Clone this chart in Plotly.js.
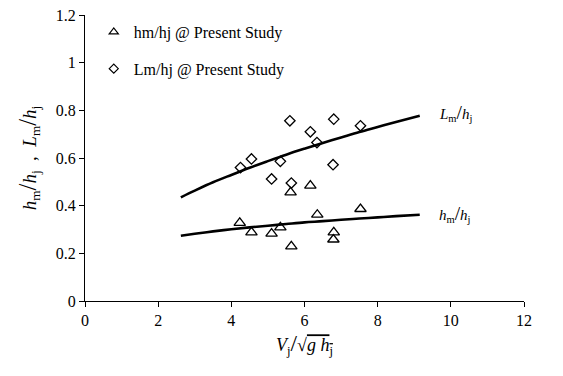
<!DOCTYPE html>
<html>
<head>
<meta charset="utf-8">
<script src="https://cdn.plot.ly/plotly-3.0.1.min.js"></script>
<style>
  html, body { margin: 0; padding: 0; background: #fff; }
  #chart { width: 563px; height: 376px; }
</style>
</head>
<body>
<div id="chart"></div>
<script>
// Measured hm/hj values
var hmX = [4.23, 4.55, 5.10, 5.34, 5.64, 5.62, 6.16, 6.35, 7.53, 6.80, 6.79];
var hmY = [0.328, 0.288, 0.283, 0.309, 0.229, 0.456, 0.484, 0.362, 0.386, 0.288, 0.258];

// Measured Lm/hj values
var lmX = [5.60, 6.80, 6.16, 6.34, 4.55, 4.25, 5.34, 5.10, 6.78, 5.64, 7.53];
var lmY = [0.756, 0.763, 0.710, 0.665, 0.596, 0.560, 0.586, 0.512, 0.572, 0.495, 0.735];

// Fitted trend curves
var fitX   = [2.62, 3, 3.5, 4, 4.5, 5, 5.5, 6, 6.5, 7, 7.5, 8, 8.5, 9.15];
var fitLmY = [0.435, 0.463, 0.498, 0.529, 0.559, 0.587, 0.614, 0.639, 0.663, 0.686, 0.709, 0.730, 0.751, 0.777];
var fitHmY = [0.274, 0.282, 0.292, 0.301, 0.309, 0.316, 0.323, 0.330, 0.335, 0.341, 0.346, 0.351, 0.356, 0.362];

var legendNames = ['hm/hj @ Present Study', 'Lm/hj @ Present Study'];
var xTicks = [0, 2, 4, 6, 8, 10, 12];
var yTicks = [0, 0.2, 0.4, 0.6, 0.8, 1, 1.2];
var yTickText = ['0', '0.2', '0.4', '0.6', '0.8', '1', '1.2'];

var serif = 'Liberation Serif, Times New Roman, serif';
var slash = '<span style="font-size:1.3em">/</span>';

var traces = [
  { x: fitX, y: fitLmY, mode: 'lines', line: { color: '#000', width: 2.6, shape: 'spline' },
    showlegend: false, hoverinfo: 'skip' },
  { x: fitX, y: fitHmY, mode: 'lines', line: { color: '#000', width: 2.6, shape: 'spline' },
    showlegend: false, hoverinfo: 'skip' },
  { x: hmX, y: hmY, mode: 'markers', showlegend: false,
    marker: { symbol: 'triangle-up-open', size: 10, color: '#000', line: { width: 1.3, color: '#000' } } },
  { x: lmX, y: lmY, mode: 'markers', showlegend: false,
    marker: { symbol: 'diamond-open', size: 8, color: '#000', line: { width: 1.3, color: '#000' } } },
  // legend entries
  { x: [null], y: [null], mode: 'markers', name: legendNames[0], legendgroup: 'a',
    marker: { symbol: 'triangle-up-open', size: 8, color: '#000', line: { width: 1.2, color: '#000' } } },
  { x: [null], y: [null], mode: 'markers', name: legendNames[1], legendgroup: 'b',
    marker: { symbol: 'diamond-open', size: 7, color: '#000', line: { width: 1.2, color: '#000' } } }
];

var layout = {
  width: 563, height: 376,
  margin: { l: 85, r: 39, t: 15, b: 74.5 },
  paper_bgcolor: '#fff', plot_bgcolor: '#fff',
  font: { family: serif, color: '#000', size: 16 },
  showlegend: true,
  legend: {
    x: 0.02, y: 1.0, xanchor: 'left', yanchor: 'top',
    bgcolor: 'rgba(0,0,0,0)', borderwidth: 0,
    font: { family: serif, size: 16, color: '#000' },
    traceorder: 'grouped', tracegroupgap: 13
  },
  xaxis: {
    range: [0, 12], tickvals: xTicks, ticktext: xTicks.map(String),
    showgrid: false, zeroline: false, showline: true, linecolor: '#000', linewidth: 1,
    ticks: 'outside', ticklen: 5, tickcolor: '#000', tickfont: { family: serif, size: 16 },
    title: { text: '<i>V</i><sub>j</sub>' + slash + '√<span style="text-decoration:overline"><i>g h</i><sub>j</sub></span>',
             font: { family: serif, size: 18 }, standoff: 10 }
  },
  yaxis: {
    range: [0, 1.2], tickvals: yTicks, ticktext: yTickText,
    showgrid: false, zeroline: false, showline: true, linecolor: '#000', linewidth: 1,
    ticks: 'outside', ticklen: 5, tickcolor: '#000', tickfont: { family: serif, size: 16 },
    title: { text: '<i>h</i><sub>m</sub>' + slash + '<i>h</i><sub>j</sub>  ,  <i>L</i><sub>m</sub>' + slash + '<i>h</i><sub>j</sub>',
             font: { family: serif, size: 19 }, standoff: 14 }
  },
  annotations: [
    { x: 10.12, y: 0.79, xref: 'x', yref: 'y', showarrow: false, xanchor: 'center',
      text: '<i>L</i><sub>m</sub>' + slash + '<i>h</i><sub>j</sub>', font: { family: serif, size: 15 } },
    { x: 10.12, y: 0.365, xref: 'x', yref: 'y', showarrow: false, xanchor: 'center',
      text: '<i>h</i><sub>m</sub>' + slash + '<i>h</i><sub>j</sub>', font: { family: serif, size: 15 } }
  ]
};

Plotly.newPlot('chart', traces, layout, { displayModeBar: false, staticPlot: true });
</script>
</body>
</html>
